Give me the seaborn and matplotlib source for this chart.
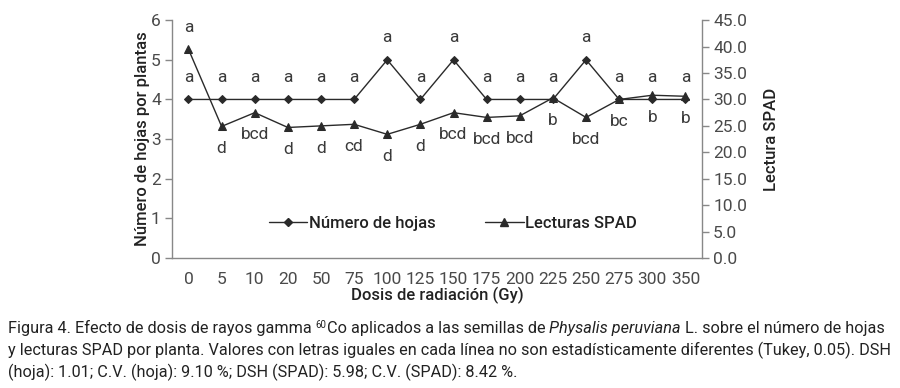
import matplotlib
matplotlib.use("Agg")
import matplotlib.pyplot as plt
import seaborn as sns
import pandas as pd
import numpy as np
from matplotlib.lines import Line2D

# ---- data ----
doses = ["0", "5", "10", "20", "50", "75", "100", "125", "150", "175",
         "200", "225", "250", "275", "300", "350"]
hojas = [4, 4, 4, 4, 4, 4, 5, 4, 5, 4, 4, 4, 5, 4, 4, 4]
spad = [39.5, 24.9, 27.5, 24.7, 25.0, 25.3, 23.4, 25.3, 27.5, 26.6,
        26.9, 30.3, 26.6, 30.0, 30.8, 30.6]
hojas_letters = ["a"] * 16
spad_letters = ["a", "d", "bcd", "d", "d", "cd", "d", "d", "bcd", "bcd",
                "bcd", "b", "bcd", "bc", "b", "b"]
left_ticks = [0, 1, 2, 3, 4, 5, 6]
right_ticks = [0, 5, 10, 15, 20, 25, 30, 35, 40, 45]

sns.set_theme(style="white")
plt.rcParams["font.family"] = ["Roboto", "DejaVu Sans"]

pos = np.arange(len(doses))
df = pd.DataFrame({"pos": pos, "dose": doses, "hojas": hojas, "spad": spad})

fig = plt.figure(figsize=(9, 3.88), dpi=100)
ax = fig.add_axes([0.191, 0.335, 0.589, 0.613])
ax2 = ax.twinx()

lc = "#2a2a2a"
sns.lineplot(data=df, x="pos", y="hojas", ax=ax, color=lc, lw=1.0,
             marker="D", markersize=4.5, markeredgecolor=lc, legend=False)
sns.lineplot(data=df, x="pos", y="spad", ax=ax2, color=lc, lw=1.0,
             marker="^", markersize=6, markeredgecolor=lc, legend=False)

ax.set_xlim(-0.5, len(doses) - 0.5)
ax.set_ylim(0, 6)
ax2.set_ylim(0, 45)

tick_c = "#4a4a4a"
spine_c = "#888888"
ax.set_yticks(left_ticks)
ax.set_yticklabels([str(t) for t in left_ticks])
ax2.set_yticks(right_ticks)
ax2.set_yticklabels([f"{t:.1f}" for t in right_ticks])
ax.set_xticks(pos)
ax.set_xticklabels(doses)
ax.set_xticks(np.arange(-0.5, len(doses), 1.0), minor=True)

ax.tick_params(axis="x", which="major", length=0, labelsize=12.5, colors=tick_c, pad=10)
ax.tick_params(axis="x", which="minor", length=5, width=1, color=spine_c, direction="out")
ax.tick_params(axis="y", length=5, width=1, color=spine_c, labelsize=12.5,
               labelcolor=tick_c, direction="out", left=True, pad=3)
ax2.tick_params(axis="y", length=5, width=1, color=spine_c, labelsize=12.5,
                labelcolor=tick_c, direction="out", right=True, pad=3)

for a in (ax, ax2):
    a.spines["top"].set_visible(False)
    for s in ("left", "right", "bottom"):
        a.spines[s].set_color(spine_c)
        a.spines[s].set_linewidth(1)
    a.grid(False)
ax.spines["right"].set_visible(False)
ax2.spines["left"].set_visible(False)
ax2.spines["bottom"].set_visible(False)

ax.set_xlabel("Dosis de radiación (Gy)", fontsize=12, color="#222222",
              fontweight="medium", labelpad=0)
ax.set_ylabel("Número de hojas por plantas", fontsize=12, color="#222222",
              fontweight="medium", labelpad=1)
ax2.set_ylabel("Lectura SPAD", fontsize=12, color="#222222",
               fontweight="medium", labelpad=12)

# letters
for x, y, t in zip(pos, hojas, hojas_letters):
    ax.annotate(t, (x, y), xytext=(0, 16), textcoords="offset points",
                ha="center", va="center", fontsize=12.5, color="#3a3a3a")
for i, (x, y, t) in enumerate(zip(pos, spad, spad_letters)):
    off = 16 if i == 0 else -16
    ax2.annotate(t, (x, y), xytext=(0, off), textcoords="offset points",
                 ha="center", va="center", fontsize=12.5, color="#3a3a3a")

handles = [Line2D([], [], color=lc, lw=1.0, marker="D", markersize=4.5),
           Line2D([], [], color=lc, lw=1.0, marker="^", markersize=6)]
leg = ax.legend(handles, ["Número de hojas", "Lecturas SPAD"], loc="center",
                bbox_to_anchor=(0.53, 0.145), ncol=2, frameon=False,
                fontsize=12, handlelength=2.3, handletextpad=0.1, columnspacing=3.0)
for t in leg.get_texts():
    t.set_color("#222222")
    t.set_fontweight("medium")

# caption
cap_font = ["Roboto", "DejaVu Sans"]
fig.canvas.draw()
renderer = fig.canvas.get_renderer()

def write_line(pieces, x0, y0):
    x = x0
    for txt, kw in pieces:
        opts = dict(fontsize=11.7, color="#222222", family=cap_font,
                    va="baseline", ha="left")
        dy = kw.pop("dy", 0.0)
        opts.update(kw)
        t = fig.text(x, y0 + dy, txt, **opts)
        bb = t.get_window_extent(renderer=renderer)
        x += bb.width / fig.bbox.width

write_line([("Figura 4. Efecto de dosis de rayos gamma ", {}),
            ("60", {"fontsize": 7, "dy": 0.014}),
            ("Co aplicados a las semillas de ", {}),
            ("Physalis peruviana", {"style": "italic"}),
            (" L. sobre el número de hojas", {})], 0.009, 1 - 333 / 388)
write_line([("y lecturas SPAD por planta. Valores con letras iguales en cada línea no son estadísticamente diferentes (Tukey, 0.05). DSH", {})],
           0.009, 1 - 355 / 388)
write_line([("(hoja): 1.01; C.V. (hoja): 9.10 %; DSH (SPAD): 5.98; C.V. (SPAD): 8.42 %.", {})],
           0.009, 1 - 377 / 388)

fig.savefig("out.png", dpi=100)
